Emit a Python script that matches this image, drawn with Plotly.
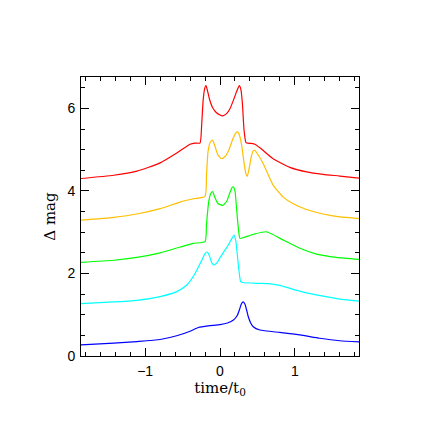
import plotly.graph_objects as go

red_x = [-1.86, -1.42, -1.11, -0.8, -0.578, -0.4, -0.333, -0.267, -0.245, -0.225, -0.205, -0.187, -0.17, -0.14, -0.1, -0.05, 0.0, 0.036, 0.08, 0.13, 0.18, 0.22, 0.258, 0.28, 0.3, 0.32, 0.345, 0.36, 0.42, 0.467, 0.55, 0.71, 0.933, 1.156, 1.378, 1.6, 1.86]
red_y = [4.30, 4.38, 4.48, 4.68, 4.92, 5.13, 5.16, 5.16, 5.6, 6.2, 6.48, 6.55, 6.45, 6.22, 6.02, 5.9, 5.84, 5.82, 5.86, 5.98, 6.2, 6.4, 6.55, 6.45, 6.1, 5.5, 5.18, 5.16, 5.15, 5.13, 5.02, 4.78, 4.57, 4.46, 4.40, 4.36, 4.31]

yel_x = [-1.86, -1.42, -1.11, -0.8, -0.533, -0.356, -0.2, -0.18, -0.16, -0.13, -0.10, -0.07, -0.03, 0.02, 0.07, 0.12, 0.17, 0.21, 0.235, 0.26, 0.29, 0.32, 0.345, 0.364, 0.39, 0.42, 0.445, 0.467, 0.5, 0.578, 0.71, 0.844, 0.978, 1.156, 1.378, 1.6, 1.86]
yel_y = [3.29, 3.36, 3.44, 3.57, 3.73, 3.81, 3.87, 4.4, 4.95, 5.18, 5.23, 5.1, 4.88, 4.78, 4.84, 5.0, 5.25, 5.4, 5.43, 5.35, 5.1, 4.7, 4.42, 4.35, 4.55, 4.85, 4.97, 4.98, 4.9, 4.66, 4.14, 3.85, 3.69, 3.55, 3.44, 3.37, 3.33]

grn_x = [-1.86, -1.42, -1.11, -0.8, -0.533, -0.356, -0.2, -0.18, -0.15, -0.12, -0.098, -0.07, -0.03, 0.036, 0.09, 0.13, 0.16, 0.178, 0.2, 0.22, 0.245, 0.267, 0.33, 0.45, 0.62, 0.844, 1.067, 1.29, 1.556, 1.86]
grn_y = [2.27, 2.32, 2.39, 2.50, 2.64, 2.73, 2.77, 3.2, 3.75, 3.95, 3.98, 3.85, 3.7, 3.65, 3.75, 3.95, 4.08, 4.10, 4.0, 3.6, 3.1, 2.85, 2.88, 2.95, 3.01, 2.81, 2.61, 2.47, 2.39, 2.34]

cyn_x = [-1.86, -1.42, -1.11, -0.8, -0.578, -0.444, -0.333, -0.244, -0.2, -0.17, -0.14, -0.11, -0.08, -0.04, 0.0, 0.05, 0.1, 0.15, 0.187, 0.21, 0.24, 0.276, 0.3, 0.489, 0.65, 0.8, 0.933, 1.156, 1.378, 1.6, 1.86]
cyn_y = [1.27, 1.31, 1.35, 1.44, 1.56, 1.72, 2.0, 2.32, 2.48, 2.52, 2.42, 2.26, 2.20, 2.26, 2.38, 2.52, 2.66, 2.82, 2.93, 2.8, 2.3, 1.80, 1.78, 1.76, 1.755, 1.71, 1.64, 1.53, 1.45, 1.38, 1.33]

blu_x = [-1.86, -1.42, -1.11, -0.8, -0.578, -0.4, -0.289, -0.156, 0.0, 0.1, 0.18, 0.23, 0.26, 0.285, 0.31, 0.335, 0.36, 0.378, 0.41, 0.444, 0.533, 0.8, 1.067, 1.333, 1.6, 1.86]
blu_y = [0.27, 0.31, 0.35, 0.40, 0.49, 0.60, 0.69, 0.73, 0.76, 0.80, 0.87, 0.98, 1.12, 1.26, 1.31, 1.25, 1.08, 0.95, 0.80, 0.71, 0.63, 0.57, 0.51, 0.43, 0.37, 0.34]

series = [
    (red_x, red_y, "#ff0000"),
    (yel_x, yel_y, "#ffbf00"),
    (grn_x, grn_y, "#00ff00"),
    (cyn_x, cyn_y, "#00ffff"),
    (blu_x, blu_y, "#0000ff"),
]

fig = go.Figure()
for xs, ys, c in series:
    fig.add_trace(go.Scatter(x=xs, y=ys, mode="lines",
                             line=dict(color=c, width=1.2, shape="spline", smoothing=0.5),
                             showlegend=False))

axis_common = dict(
    showgrid=False, zeroline=False, showline=True, linecolor="black", linewidth=1,
    mirror="ticks", ticks="inside", ticklen=8, tickcolor="black", tickwidth=1,
    automargin=False,
    tickfont=dict(family="Liberation Sans, Arial, sans-serif", size=14, color="black"),
)
fig.update_layout(
    width=428, height=428,
    margin=dict(l=73, r=77, t=69, b=80),
    paper_bgcolor="white", plot_bgcolor="white",
    xaxis=dict(range=[-1.857, 1.857], dtick=1, tick0=0, ticklabelstandoff=2,
               minor=dict(dtick=0.2, tick0=0, ticklen=4, ticks="inside", tickcolor="black"),
               title=dict(text="time/t<sub>0</sub>", standoff=4,
                          font=dict(family="DejaVu Serif, serif", size=15, color="black")),
               **axis_common),
    yaxis=dict(range=[0, 6.76], dtick=2, tick0=0, ticklabelstandoff=2,
               minor=dict(dtick=0.5, tick0=0, ticklen=4, ticks="inside", tickcolor="black"),
               title=dict(text="Δ mag", standoff=8,
                          font=dict(family="DejaVu Serif, serif", size=15, color="black")),
               **axis_common),
)
fig.write_html("out.html")
